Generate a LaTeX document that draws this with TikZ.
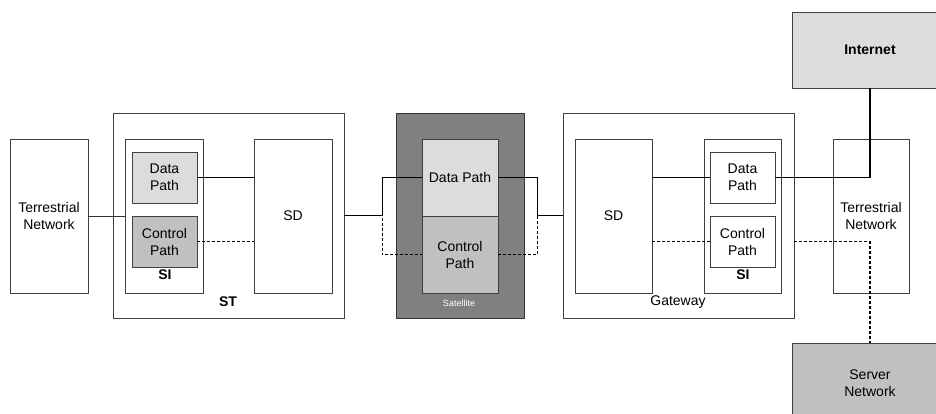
\documentclass[tikz,border=0pt]{standalone}
\usepackage{fontspec}
\setmainfont{Liberation Sans}
\begin{document}
\begin{tikzpicture}[x=1pt,y=-1pt,
  box/.style={draw=black!75,line width=0.8pt,rectangle,inner sep=0pt,align=center,font=\fontsize{14}{17}\selectfont},
  lab/.style={inner sep=0pt,font=\fontsize{14}{17}\selectfont},
  link/.style={draw=black,line width=1.4pt},
  thin/.style={draw=black!80,line width=0.9pt},
  ctrl/.style={draw=black,line width=1.4pt,dash pattern=on 3pt off 2pt}]
\definecolor{lightg}{HTML}{DCDCDC}
\definecolor{midg}{HTML}{C0C0C0}
\definecolor{darkg}{HTML}{808080}
\clip (0,0) rectangle (936,414);
\fill[white] (0,0) rectangle (936,414);
% left side
\node[box,minimum width=78,minimum height=154] (tn1) at (49,216) {Terrestrial\\Network};
\node[box,minimum width=231,minimum height=205] (st) at (228.5,215.5) {};
\node[box,minimum width=78,minimum height=154] (si1) at (164,216) {};
\node[box,fill=lightg,minimum width=65,minimum height=51] (dp1) at (164.5,177.5) {Data\\Path};
\node[box,fill=midg,minimum width=65,minimum height=51] (cp1) at (164.5,241.5) {Control\\Path};
\node[box,minimum width=78,minimum height=154] (sd1) at (293,216) {SD};
\node[lab,font=\fontsize{14}{17}\selectfont\bfseries] (silab1) at (165,275) {SI};
\node[lab,font=\fontsize{14}{17}\selectfont\bfseries] (stlab) at (228,302) {ST};
% satellite
\node[box,draw=black!80,fill=darkg,minimum width=128,minimum height=205] (sat) at (460,215.5) {};
\node[box,fill=lightg,minimum width=76,minimum height=77] (sdp) at (460,177.5) {Data Path};
\node[box,fill=midg,minimum width=76,minimum height=77] (scp) at (460,254.5) {Control\\Path};
\node[lab,text=white,font=\fontsize{9}{11}\selectfont] (satlab) at (459,303) {Satellite};
% gateway side
\node[box,minimum width=231,minimum height=205] (gw) at (678.5,215.5) {};
\node[box,minimum width=77,minimum height=154] (gsd) at (613.5,216) {SD};
\node[box,minimum width=77,minimum height=154] (gsi) at (742.5,216) {};
\node[box,fill=white,minimum width=65,minimum height=51] (gdp) at (742.5,177.5) {Data\\Path};
\node[box,fill=white,minimum width=65,minimum height=51] (gcp) at (742.5,241.5) {Control\\Path};
\node[lab,font=\fontsize{14}{17}\selectfont\bfseries] (silab2) at (743,275) {SI};
\node[lab] (gwlab) at (678,302) {Gateway};
\node[box,minimum width=76,minimum height=154] (tn2) at (871,216) {Terrestrial\\Network};
\node[box,fill=lightg,minimum width=156,minimum height=76,font=\fontsize{14}{17}\selectfont\bfseries] (inet) at (870,50) {Internet};
\node[box,fill=midg,minimum width=156,minimum height=80] (server) at (870,383) {Server\\Network};
% connectors
\draw[thin] (tn1.east) -- (si1.west);
\draw[link] (dp1.east) -- (dp1.east -| sd1.west);
\draw[ctrl] (cp1.east) -- (cp1.east -| sd1.west);
\draw[link] (st.east) -- ++(38,0) |- (sdp.west);
\draw[ctrl] (st.east) -- ++(38,0) |- (scp.west);
\draw[link] (sdp.east) -- ++(39,0) |- (gw.west);
\draw[ctrl] (scp.east) -- ++(39,0) |- (gw.west);
\draw[link] (gdp.west -| gsd.east) -- (gdp.west);
\draw[ctrl] (gcp.west -| gsd.east) -- (gcp.west);
\draw[link] (gdp.east) -| (inet.south);
\draw[ctrl] (gcp.east -| gw.east) -| (server.north);
\end{tikzpicture}
\end{document}
